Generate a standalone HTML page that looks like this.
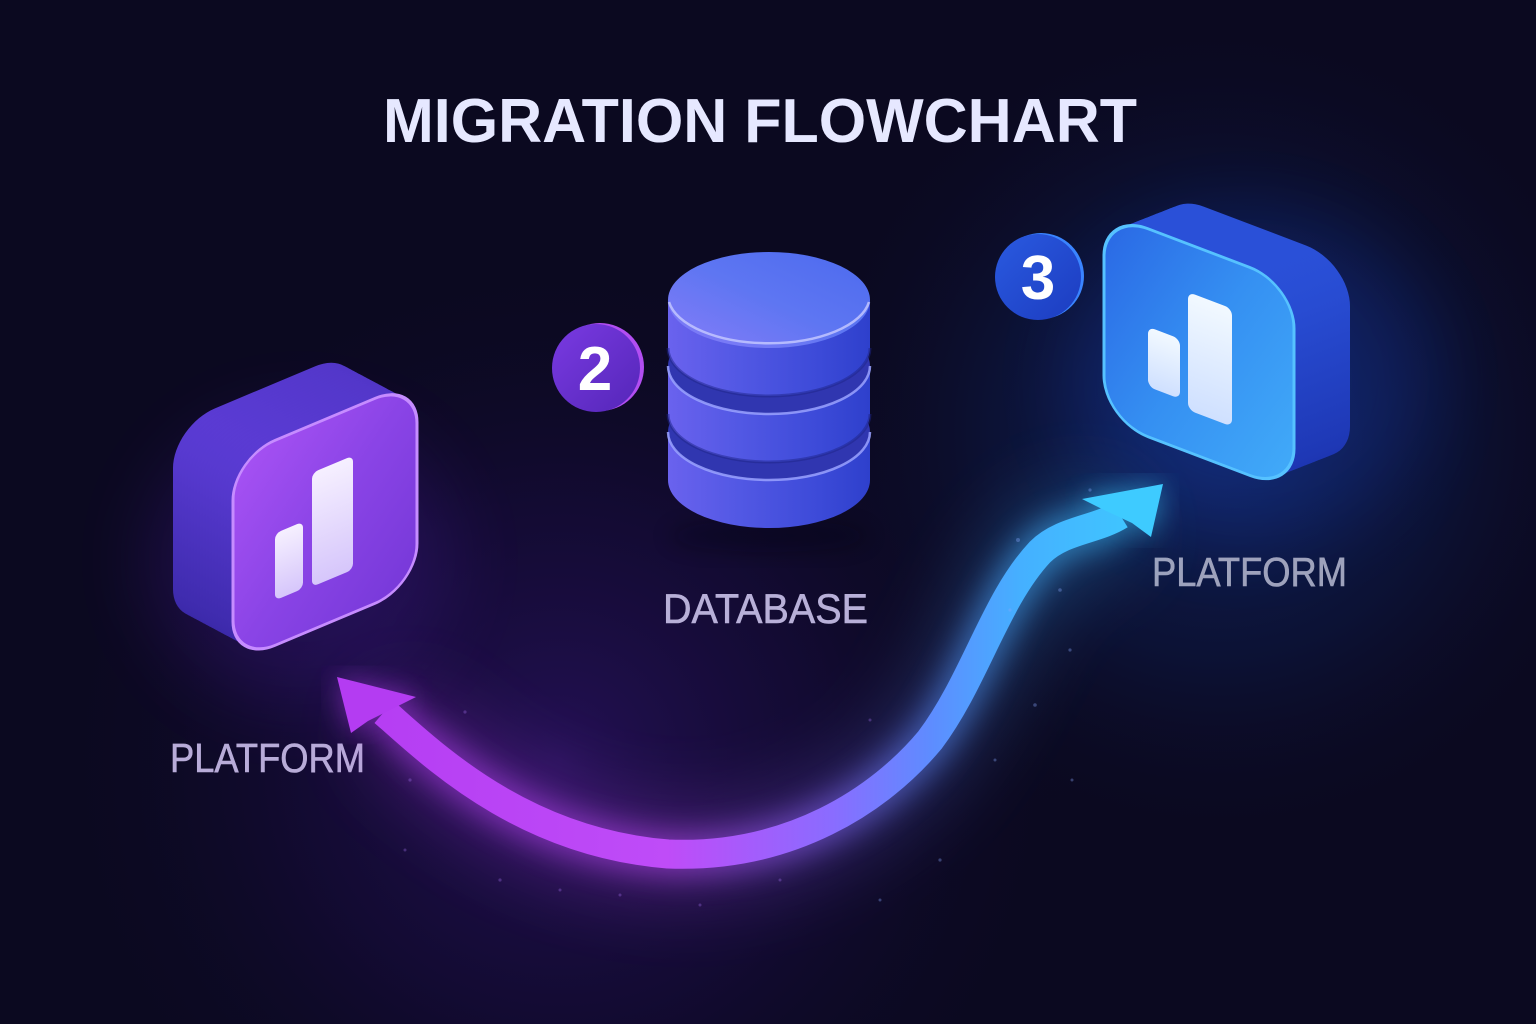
<!DOCTYPE html>
<html>
<head>
<meta charset="utf-8">
<style>
  html,body{margin:0;padding:0;background:#0b0920;}
  svg{display:block;}
  text{font-family:"Liberation Sans",sans-serif;}
</style>
</head>
<body>
<svg width="1536" height="1024" viewBox="0 0 1536 1024" xmlns="http://www.w3.org/2000/svg">
  <defs>
    <radialGradient id="bgPurple" cx="560" cy="760" r="520" gradientUnits="userSpaceOnUse">
      <stop offset="0" stop-color="#2a1262" stop-opacity="0.8"/>
      <stop offset="0.5" stop-color="#1c0d48" stop-opacity="0.45"/>
      <stop offset="1" stop-color="#0b0920" stop-opacity="0"/>
    </radialGradient>
    <radialGradient id="bgBlue" cx="1220" cy="430" r="420" gradientUnits="userSpaceOnUse">
      <stop offset="0" stop-color="#12307a" stop-opacity="0.7"/>
      <stop offset="0.55" stop-color="#0e1e52" stop-opacity="0.4"/>
      <stop offset="1" stop-color="#0b0920" stop-opacity="0"/>
    </radialGradient>
    <filter id="blur40" x="-50%" y="-50%" width="200%" height="200%"><feGaussianBlur stdDeviation="40"/></filter>
    <filter id="blur14" x="-20%" y="-20%" width="140%" height="140%"><feGaussianBlur stdDeviation="14"/></filter>
    <filter id="blur10" x="-50%" y="-50%" width="200%" height="200%"><feGaussianBlur stdDeviation="10"/></filter>

    <linearGradient id="lSide" x1="0" y1="0" x2="0.3" y2="1">
      <stop offset="0" stop-color="#5c3cd6"/>
      <stop offset="1" stop-color="#3626a2"/>
    </linearGradient>
    <linearGradient id="lFront" x1="0" y1="0" x2="1" y2="1">
      <stop offset="0" stop-color="#a852f4"/>
      <stop offset="0.5" stop-color="#8a44e6"/>
      <stop offset="1" stop-color="#7638d8"/>
    </linearGradient>
    <linearGradient id="lBar" x1="0" y1="0" x2="0" y2="1">
      <stop offset="0" stop-color="#f6f0ff"/>
      <stop offset="1" stop-color="#d6c6fb"/>
    </linearGradient>
    <g id="lSideShape"><rect transform="matrix(1,-0.42,0,1,233,458)" x="0" y="0" width="184" height="205" rx="42" fill="url(#lSide)"/></g>

    <linearGradient id="rSide" x1="0" y1="0" x2="0" y2="1">
      <stop offset="0" stop-color="#2a50d8"/>
      <stop offset="1" stop-color="#1c34b0"/>
    </linearGradient>
    <linearGradient id="rFront" x1="0" y1="0.2" x2="1" y2="0.8">
      <stop offset="0" stop-color="#2b6ce6"/>
      <stop offset="0.5" stop-color="#3590f2"/>
      <stop offset="1" stop-color="#40a8f8"/>
    </linearGradient>
    <linearGradient id="rBar" x1="0" y1="0" x2="0" y2="1">
      <stop offset="0" stop-color="#f2f9ff"/>
      <stop offset="1" stop-color="#cfe0ff"/>
    </linearGradient>
    <g id="rSideShape"><rect transform="matrix(1,0.38,0,1,1104,212)" x="0" y="0" width="190" height="208" rx="44" fill="url(#rSide)"/></g>

    <linearGradient id="dbSide" x1="668" y1="0" x2="870" y2="0" gradientUnits="userSpaceOnUse">
      <stop offset="0" stop-color="#6a62ee"/>
      <stop offset="0.35" stop-color="#5258e4"/>
      <stop offset="0.75" stop-color="#3c4ad8"/>
      <stop offset="1" stop-color="#2e40cc"/>
    </linearGradient>
    <linearGradient id="dbTop" x1="0" y1="1" x2="1" y2="0">
      <stop offset="0" stop-color="#867cf8"/>
      <stop offset="0.5" stop-color="#5e76f2"/>
      <stop offset="1" stop-color="#4c6aee"/>
    </linearGradient>

    <linearGradient id="b2" x1="0" y1="0" x2="1" y2="1">
      <stop offset="0" stop-color="#7a3ae2"/>
      <stop offset="1" stop-color="#5426b8"/>
    </linearGradient>
    <linearGradient id="b3" x1="0" y1="0" x2="1" y2="1">
      <stop offset="0" stop-color="#2a5ae0"/>
      <stop offset="1" stop-color="#1c3cc0"/>
    </linearGradient>

    <linearGradient id="arr" x1="340" y1="0" x2="1160" y2="0" gradientUnits="userSpaceOnUse">
      <stop offset="0" stop-color="#b43cf2"/>
      <stop offset="0.4" stop-color="#bf4cf8"/>
      <stop offset="0.6" stop-color="#8a6cff"/>
      <stop offset="0.72" stop-color="#5e8cff"/>
      <stop offset="0.83" stop-color="#45b0ff"/>
      <stop offset="1" stop-color="#3ecbff"/>
    </linearGradient>
  </defs>

  <rect width="1536" height="1024" fill="#0b0920"/>
  <rect width="1536" height="1024" fill="url(#bgPurple)"/>
  <rect width="1536" height="1024" fill="url(#bgBlue)"/>

  <ellipse cx="1250" cy="380" rx="180" ry="160" fill="#1f55ff" opacity="0.16" filter="url(#blur40)"/>
  <ellipse cx="300" cy="560" rx="150" ry="140" fill="#7a2cff" opacity="0.16" filter="url(#blur40)"/>

  <text x="383" y="142" font-size="62" font-weight="bold" fill="#e6e8ff" textLength="754" lengthAdjust="spacingAndGlyphs">MIGRATION FLOWCHART</text>

  <!-- LEFT BLOCK -->
  <g>
    <use href="#lSideShape" x="-60" y="-32"/>
    <use href="#lSideShape" x="-57" y="-30.4"/>
    <use href="#lSideShape" x="-54" y="-28.8"/>
    <use href="#lSideShape" x="-51" y="-27.2"/>
    <use href="#lSideShape" x="-48" y="-25.6"/>
    <use href="#lSideShape" x="-45" y="-24"/>
    <use href="#lSideShape" x="-42" y="-22.4"/>
    <use href="#lSideShape" x="-39" y="-20.8"/>
    <use href="#lSideShape" x="-36" y="-19.2"/>
    <use href="#lSideShape" x="-33" y="-17.6"/>
    <use href="#lSideShape" x="-30" y="-16"/>
    <use href="#lSideShape" x="-27" y="-14.4"/>
    <use href="#lSideShape" x="-24" y="-12.8"/>
    <use href="#lSideShape" x="-21" y="-11.2"/>
    <use href="#lSideShape" x="-18" y="-9.6"/>
    <use href="#lSideShape" x="-15" y="-8"/>
    <use href="#lSideShape" x="-12" y="-6.4"/>
    <use href="#lSideShape" x="-9" y="-4.8"/>
    <use href="#lSideShape" x="-6" y="-3.2"/>
    <use href="#lSideShape" x="-3" y="-1.6"/>
  </g>
  <g transform="matrix(1,-0.42,0,1,233,458)">
    <rect x="0" y="0" width="184" height="205" rx="42" fill="url(#lFront)" stroke="#c68cff" stroke-width="3"/>
    <rect x="42" y="93" width="28" height="67" rx="6" fill="url(#lBar)"/>
    <rect x="79" y="48" width="41" height="114" rx="6" fill="url(#lBar)"/>
  </g>

  <!-- RIGHT BLOCK -->
  <g>
    <use href="#rSideShape" x="56" y="-22"/>
    <use href="#rSideShape" x="53.2" y="-20.9"/>
    <use href="#rSideShape" x="50.4" y="-19.8"/>
    <use href="#rSideShape" x="47.6" y="-18.7"/>
    <use href="#rSideShape" x="44.8" y="-17.6"/>
    <use href="#rSideShape" x="42" y="-16.5"/>
    <use href="#rSideShape" x="39.2" y="-15.4"/>
    <use href="#rSideShape" x="36.4" y="-14.3"/>
    <use href="#rSideShape" x="33.6" y="-13.2"/>
    <use href="#rSideShape" x="30.8" y="-12.1"/>
    <use href="#rSideShape" x="28" y="-11"/>
    <use href="#rSideShape" x="25.2" y="-9.9"/>
    <use href="#rSideShape" x="22.4" y="-8.8"/>
    <use href="#rSideShape" x="19.6" y="-7.7"/>
    <use href="#rSideShape" x="16.8" y="-6.6"/>
    <use href="#rSideShape" x="14" y="-5.5"/>
    <use href="#rSideShape" x="11.2" y="-4.4"/>
    <use href="#rSideShape" x="8.4" y="-3.3"/>
    <use href="#rSideShape" x="5.6" y="-2.2"/>
    <use href="#rSideShape" x="2.8" y="-1.1"/>
  </g>
  <g transform="matrix(1,0.38,0,1,1104,212)">
    <rect x="0" y="0" width="190" height="208" rx="44" fill="url(#rFront)" stroke="#56c2ff" stroke-width="3"/>
    <rect x="44" y="98" width="32" height="60" rx="7" fill="url(#rBar)"/>
    <rect x="84" y="48" width="44" height="118" rx="7" fill="url(#rBar)"/>
  </g>

  <!-- DATABASE -->
  <ellipse cx="769" cy="536" rx="100" ry="16" fill="#04030c" opacity="0.3" filter="url(#blur10)"/>
  <path d="M668,432 L668,480 A101,48 0 0 0 870,480 L870,432 Z" fill="url(#dbSide)"/>
  <ellipse cx="769" cy="432" rx="101" ry="48" fill="#3036b0"/>
  <path d="M668,432 A101,48 0 0 0 870,432" fill="none" stroke="#9aa2ff" stroke-width="2.5" opacity="0.85"/>
  <path d="M668,366 L668,414 A101,48 0 0 0 870,414 L870,366 Z" fill="url(#dbSide)"/>
  <path d="M668,414 A101,48 0 0 0 870,414" fill="none" stroke="#1e2488" stroke-width="3" opacity="0.5"/>
  <ellipse cx="769" cy="366" rx="101" ry="48" fill="#3036b0"/>
  <path d="M668,366 A101,48 0 0 0 870,366" fill="none" stroke="#9aa2ff" stroke-width="2.5" opacity="0.85"/>
  <path d="M668,300 L668,348 A101,48 0 0 0 870,348 L870,300 Z" fill="url(#dbSide)"/>
  <path d="M668,348 A101,48 0 0 0 870,348" fill="none" stroke="#1e2488" stroke-width="3" opacity="0.5"/>
  <ellipse cx="769" cy="300" rx="101" ry="48" fill="url(#dbTop)"/>
  <path d="M669,302 A101,48 0 0 0 869,302" fill="none" stroke="#c2c6ff" stroke-width="2.5" opacity="0.85"/>

  <!-- badges -->
  <circle cx="600" cy="367" r="44" fill="#b24ef2"/>
  <circle cx="596" cy="368" r="44" fill="url(#b2)"/>
  <text x="595" y="390" font-size="62" font-weight="bold" fill="#ffffff" text-anchor="middle">2</text>

  <circle cx="1041" cy="276" r="43" fill="#3a84ff"/>
  <circle cx="1038" cy="277" r="43" fill="url(#b3)"/>
  <text x="1038" y="299" font-size="62" font-weight="bold" fill="#ffffff" text-anchor="middle">3</text>

  <!-- labels -->
  <text x="170" y="772" font-size="41" fill="#b8acd8" stroke="#b8acd8" stroke-width="0.6" textLength="195" lengthAdjust="spacingAndGlyphs">PLATFORM</text>
  <text x="663" y="623" font-size="42" fill="#b8b0d8" stroke="#b8b0d8" stroke-width="0.6" textLength="205" lengthAdjust="spacingAndGlyphs">DATABASE</text>
  <text x="1152" y="586" font-size="41" fill="#9ea2bc" stroke="#9ea2bc" stroke-width="0.6" textLength="195" lengthAdjust="spacingAndGlyphs">PLATFORM</text>

  <!-- ARROW glow -->
  <path d="M384,712 C430,752 520,842 668,854 C790,859 880,800 930,740 C975,680 995,600 1040,552 C1062,530 1096,530 1120,515" fill="none" stroke="url(#arr)" stroke-width="70" opacity="0.3" filter="url(#blur40)"/>
  <path d="M384,712 C430,752 520,842 668,854 C790,859 880,800 930,740 C975,680 995,600 1040,552 C1062,530 1096,530 1120,515" fill="none" stroke="url(#arr)" stroke-width="44" opacity="0.5" filter="url(#blur14)"/>
  <polygon points="337,677 416,697 398,706 368,721 351,733" fill="#b43cf2" opacity="0.55" filter="url(#blur14)"/>
  <polygon points="1163,484 1082,499 1102,509 1132,523 1151,537" fill="#3ecbff" opacity="0.55" filter="url(#blur14)"/>

  <!-- ARROW body -->
  <path d="M384,712 C430,752 520,842 668,854 C790,859 880,800 930,740 C975,680 995,600 1040,552 C1062,530 1096,530 1120,515" fill="none" stroke="url(#arr)" stroke-width="29"/>
  <polygon points="337,677 416,697 398,706 368,721 351,733" fill="#b43cf2"/>
  <polygon points="1163,484 1082,499 1102,509 1132,523 1151,537" fill="#3ecbff"/>

  <!-- particles -->
  <g fill="#8aa8ff" opacity="0.35">
    <circle cx="1018" cy="540" r="2"/>
    <circle cx="1010" cy="610" r="1.6"/>
    <circle cx="1060" cy="590" r="1.8"/>
    <circle cx="1070" cy="650" r="1.6"/>
    <circle cx="1035" cy="705" r="1.8"/>
    <circle cx="995" cy="760" r="1.5"/>
    <circle cx="1072" cy="780" r="1.5"/>
    <circle cx="940" cy="860" r="1.6"/>
    <circle cx="880" cy="900" r="1.5"/>
    <circle cx="1090" cy="490" r="1.6"/>
  </g>
  <g fill="#b07aff" opacity="0.3">
    <circle cx="465" cy="712" r="1.6"/>
    <circle cx="410" cy="780" r="1.6"/>
    <circle cx="405" cy="850" r="1.5"/>
    <circle cx="500" cy="880" r="1.6"/>
    <circle cx="560" cy="890" r="1.5"/>
    <circle cx="620" cy="895" r="1.5"/>
    <circle cx="700" cy="905" r="1.5"/>
    <circle cx="780" cy="880" r="1.5"/>
    <circle cx="870" cy="720" r="1.5"/>
  </g>
</svg>
</body>
</html>
